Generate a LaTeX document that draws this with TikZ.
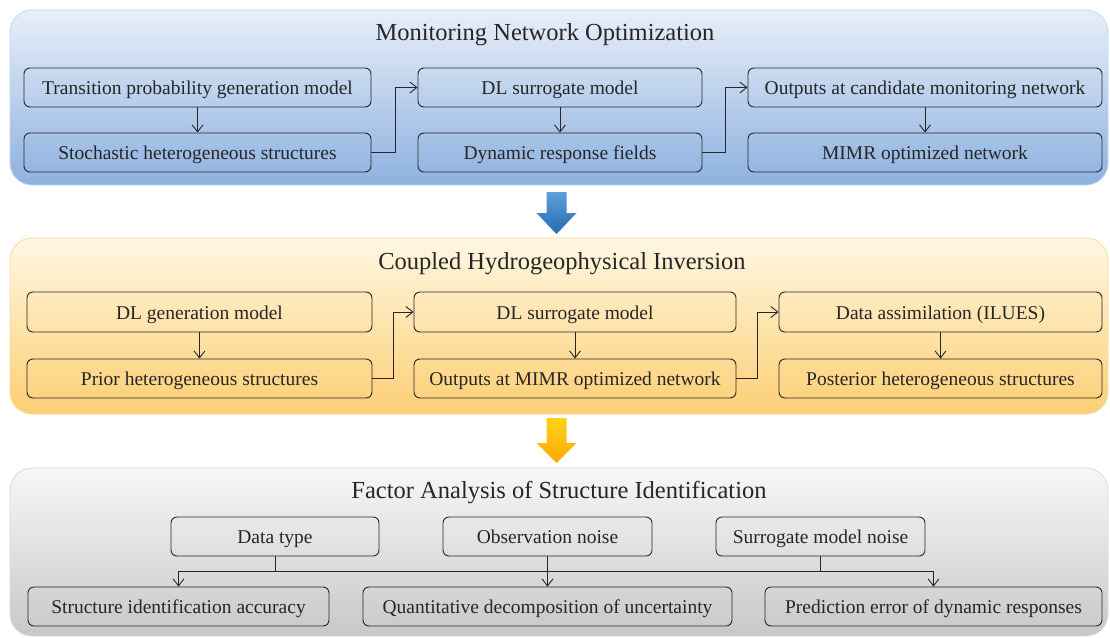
\documentclass[tikz,border=0pt]{standalone}
\usepackage{fontspec}
\setmainfont{Liberation Serif}
\newfontfamily\tnr{Liberation Serif}
\usetikzlibrary{arrows.meta}
\definecolor{pAtop}{HTML}{E8EFF9}
\definecolor{pAbot}{HTML}{8DB1E0}
\definecolor{pAbrd}{HTML}{C3D5EE}
\definecolor{pBtop}{HTML}{FFF7E3}
\definecolor{pBbot}{HTML}{FCCF74}
\definecolor{pBbrd}{HTML}{F8DC9C}
\definecolor{pCtop}{HTML}{F7F7F7}
\definecolor{pCbot}{HTML}{C8C8C8}
\definecolor{pCbrd}{HTML}{DADADA}
\definecolor{arBtop}{HTML}{5FA0DA}
\definecolor{arBbot}{HTML}{2469B3}
\definecolor{arYtop}{HTML}{FFD21A}
\definecolor{arYbot}{HTML}{FFA800}
\definecolor{ink}{HTML}{262626}
\newcommand{\boxfont}{\tnr\fontsize{19.5}{22}\selectfont}
\newcommand{\ttlfont}{\tnr\fontsize{24.5}{28}\selectfont}
\tikzset{
  panel/.style={rounded corners=22pt, line width=0.8pt},
  fbox/.style={draw=ink, rounded corners=6pt, line width=0.9pt, minimum height=39pt,
    inner sep=0pt, font=\boxfont, text=ink, text height=15.5pt, text depth=1.5pt},
  ptitle/.style={font=\ttlfont, text=ink, inner sep=0pt},
  conn/.style={draw=ink, line width=0.9pt, -{Straight Barb[length=7pt,width=11pt]}},
  plainln/.style={draw=ink, line width=0.9pt},
  bigarrow/.style={draw=none}
}
\begin{document}
\begin{tikzpicture}[x=1pt,y=-1pt]
\useasboundingbox (0,0) rectangle (1110,637);
% panels
\shade[panel, top color=pAtop, bottom color=pAbot, draw=pAbrd] (10,10) rectangle (1108,185);
\shade[panel, top color=pBtop, bottom color=pBbot, draw=pBbrd] (10,238) rectangle (1108,414);
\shade[panel, top color=pCtop, bottom color=pCbot, draw=pCbrd] (10,468) rectangle (1108,636);
% big arrows
\shade[bigarrow, top color=arBtop, bottom color=arBbot]
  (546.5,192) -- (566.5,192) -- (566.5,213) -- (576.5,213) -- (556.5,234) -- (536.5,213) -- (546.5,213) -- cycle;
\shade[bigarrow, top color=arYtop, bottom color=arYbot]
  (546.5,418) -- (566.5,418) -- (566.5,443) -- (576.5,443) -- (556.5,463) -- (536.5,443) -- (546.5,443) -- cycle;
% titles
\node[ptitle] (t1) at (545,34.5) {Monitoring Network Optimization};
\node[ptitle] (t2) at (562,264) {Coupled Hydrogeophysical Inversion};
\node[ptitle] (t3) at (559,493) {Factor Analysis of Structure Identification};
% panel 1
\node[fbox, minimum width=347pt] (tpg) at (197.5,87.5) {Transition probability generation model};
\node[fbox, minimum width=347pt] (shs) at (197.5,152.5) {Stochastic heterogeneous structures};
\node[fbox, minimum width=284pt] (dls1) at (560,87.5) {DL surrogate model};
\node[fbox, minimum width=284pt] (drf) at (560,152.5) {Dynamic response fields};
\node[fbox, minimum width=354pt] (out1) at (925,87.5) {Outputs at candidate monitoring network};
\node[fbox, minimum width=354pt] (mimr) at (925,152.5) {MIMR optimized network};
\draw[conn] (tpg) -- (shs);
\draw[conn] (dls1) -- (drf);
\draw[conn] (out1) -- (mimr);
\draw[conn] (shs.east) -- ++(24,0) |- (dls1.west);
\draw[conn] (drf.east) -- ++(23,0) |- (out1.west);
% panel 2
\node[fbox, minimum width=345pt, minimum height=40pt] (dlg) at (199.5,312) {DL generation model};
\node[fbox, minimum width=345pt] (prior) at (199.5,378.5) {Prior heterogeneous structures};
\node[fbox, minimum width=322pt, minimum height=40pt] (dls2) at (575,312) {DL surrogate model};
\node[fbox, minimum width=322pt] (outm) at (575,378.5) {Outputs at MIMR optimized network};
\node[fbox, minimum width=323pt, minimum height=40pt] (da) at (940.5,312) {Data assimilation (ILUES)};
\node[fbox, minimum width=323pt] (post) at (940.5,378.5) {Posterior heterogeneous structures};
\draw[conn] (dlg) -- (prior);
\draw[conn] (dls2) -- (outm);
\draw[conn] (da) -- (post);
\draw[conn] (prior.east) -- ++(21,0) |- (dls2.west);
\draw[conn] (outm.east) -- ++(21,0) |- (da.west);
% panel 3
\node[fbox, minimum width=208pt] (dt) at (275,536.5) {Data type};
\node[fbox, minimum width=209pt] (on) at (547.5,536.5) {Observation noise};
\node[fbox, minimum width=209pt] (smn) at (820.5,536.5) {Surrogate model noise};
\node[fbox, minimum width=301pt] (sia) at (178.5,606.5) {Structure identification accuracy};
\node[fbox, minimum width=369pt] (qdu) at (547.5,606.5) {Quantitative decomposition of uncertainty};
\node[fbox, minimum width=337pt] (ped) at (933.5,606.5) {Prediction error of dynamic responses};
\coordinate (busL) at (178.5,571);
\coordinate (busR) at (933.5,571);
\draw[plainln] (dt.south) -- (dt.south |- busL);
\draw[plainln] (smn.south) -- (smn.south |- busL);
\draw[plainln] (busL) -- (busR);
\draw[conn] (busL) -- (sia.north -| busL);
\draw[conn] (busR) -- (ped.north -| busR);
\draw[conn] (on) -- (qdu);
\end{tikzpicture}
\end{document}
